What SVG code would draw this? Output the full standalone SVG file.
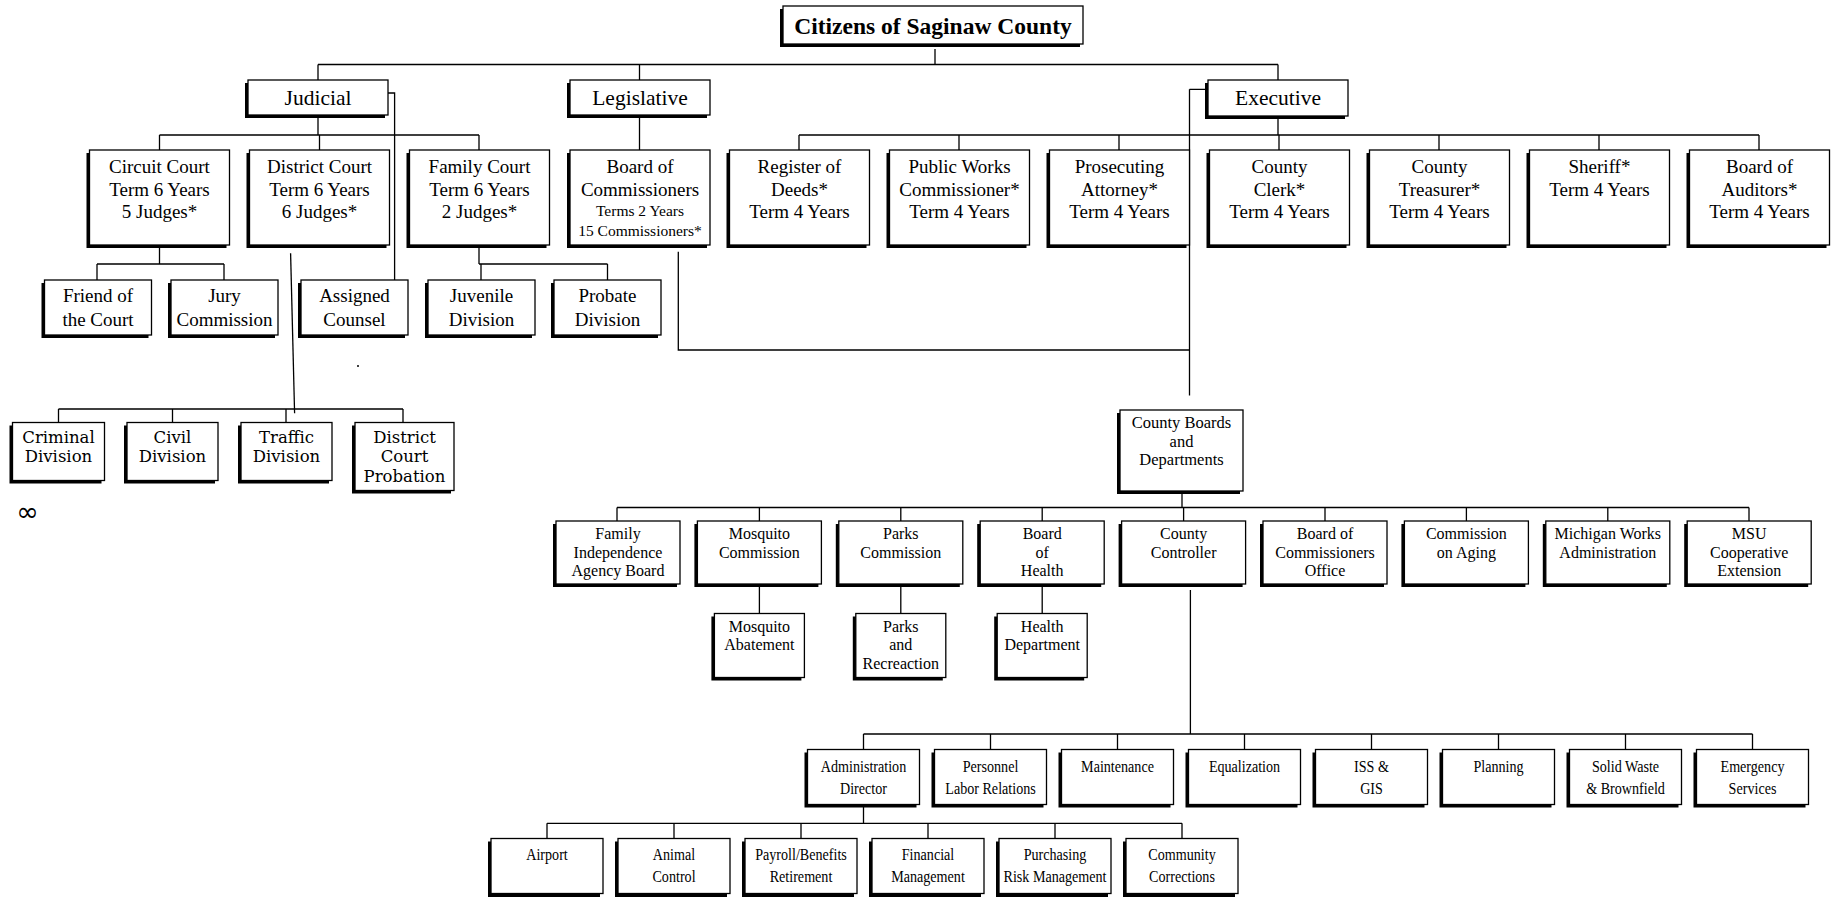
<svg xmlns="http://www.w3.org/2000/svg" width="1834" height="897" viewBox="0 0 1834 897">
<style>
.sh{fill:#000}
.bx{fill:#fff;stroke:#000;stroke-width:1.3}
.ln{fill:none;stroke:#000;stroke-width:1.3}
text{font-family:"Liberation Serif","Times New Roman",serif;fill:#000;text-anchor:middle}
.t0{font-size:23.5px;font-weight:bold}
.t1{font-size:21.5px}
.t2{font-size:19px}
.t2s{font-size:15.5px}
.t3{font-size:19px}
.t4{font-family:"DejaVu Serif",serif;font-size:16.5px}
.t5{font-size:16px}
.t7{font-size:17px}
</style>
<rect width="1834" height="897" fill="#fff"/>
<g id="connectors" class="ln">
<path d="M935 49V64.5M318 64.5H1278M318 64.5V80M639.5 64.5V80M1278 64.5V80"/>
<path d="M318 117V135M159.5 135H479M159.5 135V150M319.5 135V150M479 135V150"/>
<path d="M639.5 117V150"/>
<path d="M1278 119V135M799 135H1759M799 135V150M959 135V150M1119 135V150M1279 135V150M1439 135V150M1599 135V150M1759 135V150"/>
<path d="M388 93H394.6V280"/>
<path d="M159.5 245V264M97 264H224M97 264V280M224 264V280"/>
<path d="M479 245V264M479 264H607.5M481 264V280M607.5 264V280"/>
<path d="M290.6 253.3L294.6 413.3"/>
<path d="M58.5 409H403M58.5 409V422.5M172.5 409V422.5M286 409V422.5M403 409V422.5"/>
<path d="M678.3 251.7V350H1189.5"/>
<path d="M1189.5 89.3H1206M1189.5 89.3V395.5"/>
<path d="M1182 491V507.5M617 507.5H1749M617 507.5V521M759.4 507.5V521M900.8 507.5V521M1042.2 507.5V521M1183.6 507.5V521M1325 507.5V521M1466.4 507.5V521M1607.8 507.5V521M1749 507.5V521"/>
<path d="M759.4 584V613.5M900.8 584V613.5M1042.2 584V613.5"/>
<path d="M1190.4 590V734M863.5 734H1752.5M863.5 734V749.5M990.5 734V749.5M1117.5 734V749.5M1244.5 734V749.5M1371.5 734V749.5M1498.5 734V749.5M1625.5 734V749.5M1752.5 734V749.5"/>
<path d="M863.5 804.5V823.3M547 823.3H1182M547 823.3V838.5M674 823.3V838.5M801 823.3V838.5M928 823.3V838.5M1055 823.3V838.5M1182 823.3V838.5"/>
</g>
<g id="citizens"><rect class="sh" x="780" y="9" width="300" height="38"/><rect class="bx" x="783" y="6" width="300" height="38"/><text class="t0" x="933" y="34">Citizens of Saginaw County</text></g>
<g id="judicial"><rect class="sh" x="245" y="83" width="140" height="35"/><rect class="bx" x="248" y="80" width="140" height="35"/><text class="t1" x="318" y="105">Judicial</text></g>
<g id="legislative"><rect class="sh" x="567" y="83" width="140" height="35"/><rect class="bx" x="570" y="80" width="140" height="35"/><text class="t1" x="640" y="105">Legislative</text></g>
<g id="executive"><rect class="sh" x="1205" y="83" width="140" height="36"/><rect class="bx" x="1208" y="80" width="140" height="36"/><text class="t1" x="1278" y="105">Executive</text></g>
<g id="circuit-court"><rect class="sh" x="86.5" y="153" width="140" height="95"/><rect class="bx" x="89.5" y="150" width="140" height="95"/><text class="t2" x="159.5" y="173.3">Circuit Court<tspan x="159.5" y="196">Term 6 Years</tspan><tspan x="159.5" y="218.3">5 Judges*</tspan></text></g>
<g id="district-court"><rect class="sh" x="246.5" y="153" width="140" height="95"/><rect class="bx" x="249.5" y="150" width="140" height="95"/><text class="t2" x="319.5" y="173.3">District Court<tspan x="319.5" y="196">Term 6 Years</tspan><tspan x="319.5" y="218.3">6 Judges*</tspan></text></g>
<g id="family-court"><rect class="sh" x="406.5" y="153" width="140" height="95"/><rect class="bx" x="409.5" y="150" width="140" height="95"/><text class="t2" x="479.5" y="173.3">Family Court<tspan x="479.5" y="196">Term 6 Years</tspan><tspan x="479.5" y="218.3">2 Judges*</tspan></text></g>
<g id="board-of-commissioners"><rect class="sh" x="567" y="153" width="140" height="95"/><rect class="bx" x="570" y="150" width="140" height="95"/><text class="t2" x="640" y="173">Board of<tspan x="640" y="196">Commissioners</tspan></text><text class="t2s" x="640" y="216">Terms 2 Years<tspan x="640" y="236">15 Commissioners*</tspan></text></g>
<g id="register-of-deeds"><rect class="sh" x="726.5" y="153" width="140" height="95"/><rect class="bx" x="729.5" y="150" width="140" height="95"/><text class="t2" x="799.5" y="173.3">Register of<tspan x="799.5" y="196">Deeds*</tspan><tspan x="799.5" y="218.3">Term 4 Years</tspan></text></g>
<g id="public-works"><rect class="sh" x="886.5" y="153" width="140" height="95"/><rect class="bx" x="889.5" y="150" width="140" height="95"/><text class="t2" x="959.5" y="173.3">Public Works<tspan x="959.5" y="196">Commissioner*</tspan><tspan x="959.5" y="218.3">Term 4 Years</tspan></text></g>
<g id="prosecuting-attorney"><rect class="sh" x="1046.5" y="153" width="140" height="95"/><rect class="bx" x="1049.5" y="150" width="140" height="95"/><text class="t2" x="1119.5" y="173.3">Prosecuting<tspan x="1119.5" y="196">Attorney*</tspan><tspan x="1119.5" y="218.3">Term 4 Years</tspan></text></g>
<g id="county-clerk"><rect class="sh" x="1206.5" y="153" width="140" height="95"/><rect class="bx" x="1209.5" y="150" width="140" height="95"/><text class="t2" x="1279.5" y="173.3">County<tspan x="1279.5" y="196">Clerk*</tspan><tspan x="1279.5" y="218.3">Term 4 Years</tspan></text></g>
<g id="county-treasurer"><rect class="sh" x="1366.5" y="153" width="140" height="95"/><rect class="bx" x="1369.5" y="150" width="140" height="95"/><text class="t2" x="1439.5" y="173.3">County<tspan x="1439.5" y="196">Treasurer*</tspan><tspan x="1439.5" y="218.3">Term 4 Years</tspan></text></g>
<g id="sheriff"><rect class="sh" x="1526.5" y="153" width="140" height="95"/><rect class="bx" x="1529.5" y="150" width="140" height="95"/><text class="t2" x="1599.5" y="173.3">Sheriff*<tspan x="1599.5" y="196">Term 4 Years</tspan></text></g>
<g id="board-of-auditors"><rect class="sh" x="1686.5" y="153" width="140" height="95"/><rect class="bx" x="1689.5" y="150" width="140" height="95"/><text class="t2" x="1759.5" y="173.3">Board of<tspan x="1759.5" y="196">Auditors*</tspan><tspan x="1759.5" y="218.3">Term 4 Years</tspan></text></g>
<g id="friend-of-the-court"><rect class="sh" x="41.5" y="283" width="107" height="55"/><rect class="bx" x="44.5" y="280" width="107" height="55"/><text class="t3" x="98" y="302.3">Friend of<tspan x="98" y="325.7">the Court</tspan></text></g>
<g id="jury-commission"><rect class="sh" x="168" y="283" width="107" height="55"/><rect class="bx" x="171" y="280" width="107" height="55"/><text class="t3" x="224.5" y="302.3">Jury<tspan x="224.5" y="325.7">Commission</tspan></text></g>
<g id="assigned-counsel"><rect class="sh" x="298" y="283" width="107" height="55"/><rect class="bx" x="301" y="280" width="107" height="55"/><text class="t3" x="354.5" y="302.3">Assigned<tspan x="354.5" y="325.7">Counsel</tspan></text></g>
<g id="juvenile-division"><rect class="sh" x="425" y="283" width="107" height="55"/><rect class="bx" x="428" y="280" width="107" height="55"/><text class="t3" x="481.5" y="302.3">Juvenile<tspan x="481.5" y="325.7">Division</tspan></text></g>
<g id="probate-division"><rect class="sh" x="551" y="283" width="107" height="55"/><rect class="bx" x="554" y="280" width="107" height="55"/><text class="t3" x="607.5" y="302.3">Probate<tspan x="607.5" y="325.7">Division</tspan></text></g>
<g id="criminal-division"><rect class="sh" x="9.5" y="425.5" width="92" height="58"/><rect class="bx" x="12.5" y="422.5" width="92" height="58"/><text class="t4" x="58.5" y="442.5">Criminal<tspan x="58.5" y="462">Division</tspan></text></g>
<g id="civil-division"><rect class="sh" x="124" y="425.5" width="91" height="58"/><rect class="bx" x="127" y="422.5" width="91" height="58"/><text class="t4" x="172.5" y="442.5">Civil<tspan x="172.5" y="462">Division</tspan></text></g>
<g id="traffic-division"><rect class="sh" x="238" y="425.5" width="91" height="58"/><rect class="bx" x="241" y="422.5" width="91" height="58"/><text class="t4" x="286.5" y="442.5">Traffic<tspan x="286.5" y="462">Division</tspan></text></g>
<g id="district-court-probation"><rect class="sh" x="352" y="425.5" width="99" height="68"/><rect class="bx" x="355" y="422.5" width="99" height="68"/><text class="t4" x="404.5" y="442.5">District<tspan x="404.5" y="462">Court</tspan><tspan x="404.5" y="481.5">Probation</tspan></text></g>
<g id="county-boards"><rect class="sh" x="1117" y="413" width="123" height="81"/><rect class="bx" x="1120" y="410" width="123" height="81"/><text class="t5" x="1181.5" y="427.7" style="font-size:16.5px">County Boards<tspan x="1181.5" y="446.7">and</tspan><tspan x="1181.5" y="465">Departments</tspan></text></g>
<g id="family-independence"><rect class="sh" x="553" y="524" width="124" height="63"/><rect class="bx" x="556" y="521" width="124" height="63"/><text class="t5" x="618" y="539.3">Family<tspan x="618" y="558">Independence</tspan><tspan x="618" y="576">Agency Board</tspan></text></g>
<g id="mosquito-commission"><rect class="sh" x="694.4" y="524" width="124" height="63"/><rect class="bx" x="697.4" y="521" width="124" height="63"/><text class="t5" x="759.4" y="539.3">Mosquito<tspan x="759.4" y="558">Commission</tspan></text></g>
<g id="parks-commission"><rect class="sh" x="835.8" y="524" width="124" height="63"/><rect class="bx" x="838.8" y="521" width="124" height="63"/><text class="t5" x="900.8" y="539.3">Parks<tspan x="900.8" y="558">Commission</tspan></text></g>
<g id="board-of-health"><rect class="sh" x="977.2" y="524" width="124" height="63"/><rect class="bx" x="980.2" y="521" width="124" height="63"/><text class="t5" x="1042.2" y="539.3">Board<tspan x="1042.2" y="558">of</tspan><tspan x="1042.2" y="576">Health</tspan></text></g>
<g id="county-controller"><rect class="sh" x="1118.6" y="524" width="124" height="63"/><rect class="bx" x="1121.6" y="521" width="124" height="63"/><text class="t5" x="1183.6" y="539.3">County<tspan x="1183.6" y="558">Controller</tspan></text></g>
<g id="board-of-commissioners-office"><rect class="sh" x="1260" y="524" width="124" height="63"/><rect class="bx" x="1263" y="521" width="124" height="63"/><text class="t5" x="1325" y="539.3">Board of<tspan x="1325" y="558">Commissioners</tspan><tspan x="1325" y="576">Office</tspan></text></g>
<g id="commission-on-aging"><rect class="sh" x="1401.4" y="524" width="124" height="63"/><rect class="bx" x="1404.4" y="521" width="124" height="63"/><text class="t5" x="1466.4" y="539.3">Commission<tspan x="1466.4" y="558">on Aging</tspan></text></g>
<g id="michigan-works"><rect class="sh" x="1542.8" y="524" width="124" height="63"/><rect class="bx" x="1545.8" y="521" width="124" height="63"/><text class="t5" x="1607.8" y="539.3">Michigan Works<tspan x="1607.8" y="558">Administration</tspan></text></g>
<g id="msu-extension"><rect class="sh" x="1684.2" y="524" width="124" height="63"/><rect class="bx" x="1687.2" y="521" width="124" height="63"/><text class="t5" x="1749.2" y="539.3">MSU<tspan x="1749.2" y="558">Cooperative</tspan><tspan x="1749.2" y="576">Extension</tspan></text></g>
<g id="mosquito-abatement"><rect class="sh" x="711.4" y="616.5" width="90" height="64"/><rect class="bx" x="714.4" y="613.5" width="90" height="64"/><text class="t5" x="759.4" y="631.7">Mosquito<tspan x="759.4" y="650">Abatement</tspan></text></g>
<g id="parks-and-recreation"><rect class="sh" x="852.8" y="616.5" width="90" height="64"/><rect class="bx" x="855.8" y="613.5" width="90" height="64"/><text class="t5" x="900.8" y="631.7">Parks<tspan x="900.8" y="650">and</tspan><tspan x="900.8" y="668.5">Recreaction</tspan></text></g>
<g id="health-department"><rect class="sh" x="994.2" y="616.5" width="90" height="64"/><rect class="bx" x="997.2" y="613.5" width="90" height="64"/><text class="t5" x="1042.2" y="631.7">Health<tspan x="1042.2" y="650">Department</tspan></text></g>
<g id="administration-director"><rect class="sh" x="804.5" y="752.5" width="112" height="55"/><rect class="bx" x="807.5" y="749.5" width="112" height="55"/><g transform="translate(863.5 0) scale(0.83 1)"><text class="t7" x="0" y="772.5">Administration<tspan x="0" y="794">Director</tspan></text></g></g>
<g id="personnel"><rect class="sh" x="931.5" y="752.5" width="112" height="55"/><rect class="bx" x="934.5" y="749.5" width="112" height="55"/><g transform="translate(990.5 0) scale(0.83 1)"><text class="t7" x="0" y="772.5">Personnel<tspan x="0" y="794">Labor Relations</tspan></text></g></g>
<g id="maintenance"><rect class="sh" x="1058.5" y="752.5" width="112" height="55"/><rect class="bx" x="1061.5" y="749.5" width="112" height="55"/><g transform="translate(1117.5 0) scale(0.83 1)"><text class="t7" x="0" y="772.5">Maintenance</text></g></g>
<g id="equalization"><rect class="sh" x="1185.5" y="752.5" width="112" height="55"/><rect class="bx" x="1188.5" y="749.5" width="112" height="55"/><g transform="translate(1244.5 0) scale(0.83 1)"><text class="t7" x="0" y="772.5">Equalization</text></g></g>
<g id="iss-gis"><rect class="sh" x="1312.5" y="752.5" width="112" height="55"/><rect class="bx" x="1315.5" y="749.5" width="112" height="55"/><g transform="translate(1371.5 0) scale(0.83 1)"><text class="t7" x="0" y="772.5">ISS &amp;<tspan x="0" y="794">GIS</tspan></text></g></g>
<g id="planning"><rect class="sh" x="1439.5" y="752.5" width="112" height="55"/><rect class="bx" x="1442.5" y="749.5" width="112" height="55"/><g transform="translate(1498.5 0) scale(0.83 1)"><text class="t7" x="0" y="772.5">Planning</text></g></g>
<g id="solid-waste"><rect class="sh" x="1566.5" y="752.5" width="112" height="55"/><rect class="bx" x="1569.5" y="749.5" width="112" height="55"/><g transform="translate(1625.5 0) scale(0.83 1)"><text class="t7" x="0" y="772.5">Solid Waste<tspan x="0" y="794">&amp; Brownfield</tspan></text></g></g>
<g id="emergency-services"><rect class="sh" x="1693.5" y="752.5" width="112" height="55"/><rect class="bx" x="1696.5" y="749.5" width="112" height="55"/><g transform="translate(1752.5 0) scale(0.83 1)"><text class="t7" x="0" y="772.5">Emergency<tspan x="0" y="794">Services</tspan></text></g></g>
<g id="airport"><rect class="sh" x="488" y="841.5" width="112" height="56"/><rect class="bx" x="491" y="838.5" width="112" height="55"/><g transform="translate(547 0) scale(0.83 1)"><text class="t7" x="0" y="860.5">Airport</text></g></g>
<g id="animal-control"><rect class="sh" x="615" y="841.5" width="112" height="56"/><rect class="bx" x="618" y="838.5" width="112" height="55"/><g transform="translate(674 0) scale(0.83 1)"><text class="t7" x="0" y="860.5">Animal<tspan x="0" y="882.5">Control</tspan></text></g></g>
<g id="payroll"><rect class="sh" x="742" y="841.5" width="112" height="56"/><rect class="bx" x="745" y="838.5" width="112" height="55"/><g transform="translate(801 0) scale(0.83 1)"><text class="t7" x="0" y="860.5">Payroll/Benefits<tspan x="0" y="882.5">Retirement</tspan></text></g></g>
<g id="financial-management"><rect class="sh" x="869" y="841.5" width="112" height="56"/><rect class="bx" x="872" y="838.5" width="112" height="55"/><g transform="translate(928 0) scale(0.83 1)"><text class="t7" x="0" y="860.5">Financial<tspan x="0" y="882.5">Management</tspan></text></g></g>
<g id="purchasing"><rect class="sh" x="996" y="841.5" width="112" height="56"/><rect class="bx" x="999" y="838.5" width="112" height="55"/><g transform="translate(1055 0) scale(0.83 1)"><text class="t7" x="0" y="860.5">Purchasing<tspan x="0" y="882.5">Risk Management</tspan></text></g></g>
<g id="community-corrections"><rect class="sh" x="1123" y="841.5" width="112" height="56"/><rect class="bx" x="1126" y="838.5" width="112" height="55"/><g transform="translate(1182 0) scale(0.83 1)"><text class="t7" x="0" y="860.5">Community<tspan x="0" y="882.5">Corrections</tspan></text></g></g>
<circle cx="358" cy="366" r="1" fill="#000"/>
<text x="27.5" y="521" style="font-family:'DejaVu Sans',sans-serif;font-size:27px">∞</text>
</svg>
